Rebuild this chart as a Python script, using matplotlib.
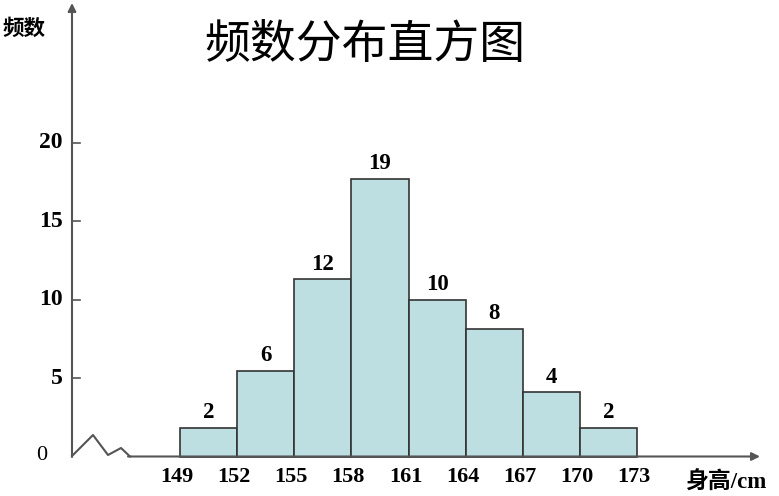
import matplotlib
matplotlib.use("Agg")
import matplotlib.pyplot as plt

# 数据
edges = [149, 152, 155, 158, 161, 164, 167, 170, 173]
counts = [2, 6, 12, 19, 10, 8, 4, 2]
# 图中柱子实际画出的高度
heights = [1.84, 5.45, 11.3, 17.7, 9.98, 8.13, 4.1, 1.84]
yticks = [5, 10, 15, 20]

W, H = 779, 496
fig = plt.figure(figsize=(W / 100, H / 100), dpi=100)
ax = fig.add_axes([0, 0, 1, 1])

# 像素 -> 数据坐标的比例
sx = (637 - 180) / (edges[-1] - edges[0])
sy = (456.5 - 142.7) / 20
x_left = edges[0] - 180 / sx
ax.set_xlim(x_left, x_left + W / sx)
ax.set_ylim(-(H - 456.5) / sy, 456.5 / sy)
ax.axis("off")


def fr(px, py):
    return px / W, 1 - py / H


serif_b = dict(family="Liberation Serif", fontweight="bold")
axis_col = "#555555"

# 直方图
ax.bar(edges[:-1], heights, width=3, align="edge",
       color="#bddfe2", edgecolor="#333333", linewidth=1.2, zorder=2)
for x0, h, c in zip(edges[:-1], heights, counts):
    ax.text(x0 + 1.5, h + 15 / sy, str(c), ha="center", va="center",
            fontsize=16.5, **serif_b)

# 坐标轴
ax.annotate("", xy=fr(72, 3), xytext=fr(72, 457), xycoords="axes fraction",
            arrowprops=dict(arrowstyle="-|>", color=axis_col, lw=1.5,
                            mutation_scale=12, shrinkA=0, shrinkB=0))
ax.annotate("", xy=fr(760, 456.5), xytext=fr(128, 456.5), xycoords="axes fraction",
            arrowprops=dict(arrowstyle="-|>", color=axis_col, lw=1.5,
                            mutation_scale=12, shrinkA=0, shrinkB=0))
zz = [fr(72, 456), fr(93, 435), fr(108, 455), fr(121, 448), fr(130, 456.5)]
ax.plot([p[0] for p in zz], [p[1] for p in zz], color=axis_col, lw=1.5,
        transform=ax.transAxes, clip_on=False)

# y 轴刻度
y_axis_x = x_left + 72 / sx
for v in yticks:
    ax.plot([y_axis_x, y_axis_x + 8 / sx], [v, v], color=axis_col, lw=1.2)
    ax.text(y_axis_x - 9 / sx, v, str(v), ha="right", va="center",
            fontsize=17, **serif_b)
ax.text(*fr(42, 456), "0", ha="center", va="center", fontsize=16,
        family="Liberation Serif", transform=ax.transAxes)

# x 轴刻度标签
for e in edges:
    ax.text(e - 3 / sx, -20 / sy, str(e), ha="center", va="center",
            fontsize=16, **serif_b)

# 文字
ax.text(*fr(365, 45), "频数分布直方图", ha="center", va="center", fontsize=33,
        family=["Noto Sans CJK SC", "DejaVu Sans"], transform=ax.transAxes)
ax.text(*fr(24, 28), "频数", ha="center", va="center", fontsize=15.5,
        fontweight="bold", family=["Noto Sans CJK SC", "DejaVu Sans"],
        transform=ax.transAxes)
ax.text(*fr(685, 483), "身高/cm", ha="left", va="center", fontsize=16.5,
        fontweight="bold", family=["Liberation Serif", "Noto Sans CJK SC"],
        transform=ax.transAxes)

fig.savefig("out.png", dpi=100)
